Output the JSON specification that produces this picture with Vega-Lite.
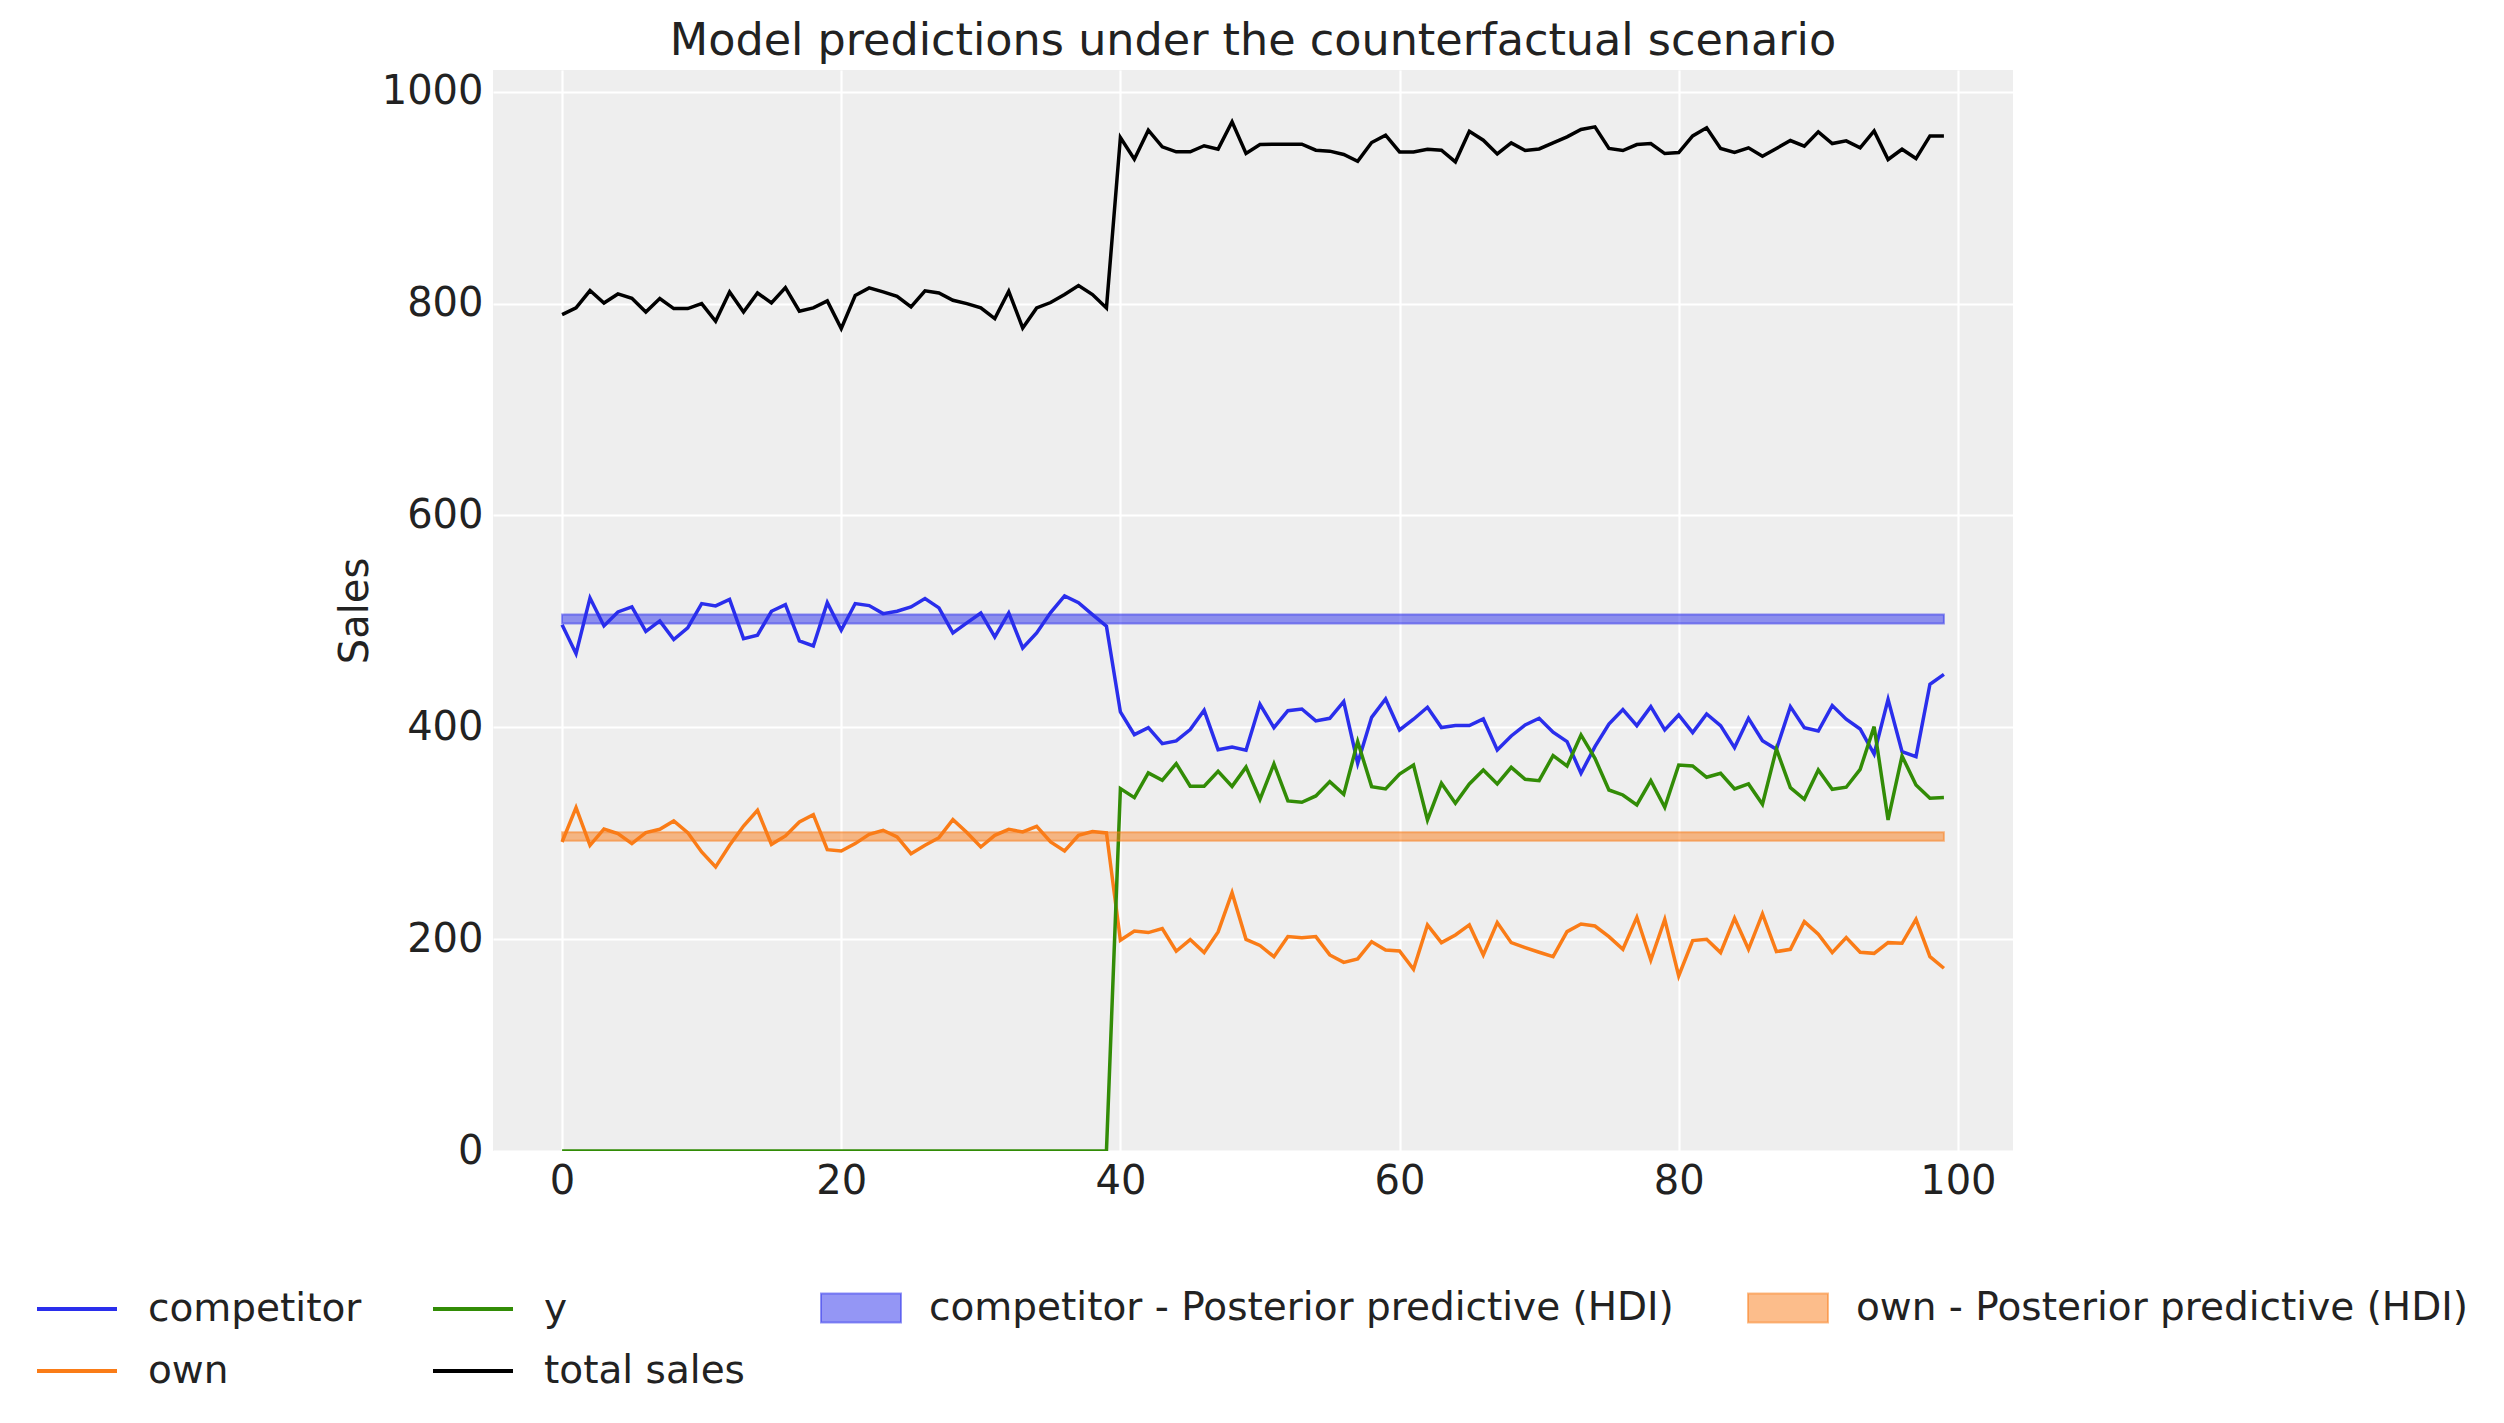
{
  "$schema": "https://vega.github.io/schema/vega-lite/v6.json",
  "width": 1520,
  "height": 1081,
  "autosize": {"type": "none"},
  "padding": {"left": 493, "top": 70, "right": 491, "bottom": 272},
  "background": "white",
  "title": {"text": "Model predictions under the counterfactual scenario", "fontSize": 44.5, "font": "DejaVu Sans", "fontWeight": "normal", "color": "#222222", "frame": "group", "anchor": "middle", "offset": 6},
  "config": {
    "view": {"fill": "#eeeeee", "stroke": null},
    "font": "DejaVu Sans",
    "axis": {"domain": false, "ticks": false, "gridColor": "#ffffff", "gridWidth": 2.2, "gridOpacity": 1, "labelFontSize": 40, "labelColor": "#222222", "labelFont": "DejaVu Sans", "titleFont": "DejaVu Sans", "titleFontSize": 40, "titleFontWeight": "normal", "titleColor": "#222222", "labelPadding": 10, "labelOverlap": false, "labelFlush": false}
  },
  "datasets": {
    "wide": [
      {"t":0,"competitor":496.9,"own":291.7,"y":0,"total sales":789.6},
      {"t":1,"competitor":469.5,"own":324.2,"y":0,"total sales":795.9},
      {"t":2,"competitor":522.1,"own":288.6,"y":0,"total sales":812.3},
      {"t":3,"competitor":495.7,"own":304.0,"y":0,"total sales":800.6},
      {"t":4,"competitor":508.9,"own":299.6,"y":0,"total sales":809.1},
      {"t":5,"competitor":513.6,"own":290.2,"y":0,"total sales":805.0},
      {"t":6,"competitor":490.6,"own":300.6,"y":0,"total sales":792.1},
      {"t":7,"competitor":500.4,"own":303.7,"y":0,"total sales":804.7},
      {"t":8,"competitor":482.8,"own":311.6,"y":0,"total sales":795.3},
      {"t":9,"competitor":493.8,"own":300.6,"y":0,"total sales":795.3},
      {"t":10,"competitor":516.8,"own":282.3,"y":0,"total sales":800.0},
      {"t":11,"competitor":514.6,"own":268.1,"y":0,"total sales":783.3},
      {"t":12,"competitor":520.8,"own":288.6,"y":0,"total sales":811.0},
      {"t":13,"competitor":483.7,"own":306.8,"y":0,"total sales":792.0},
      {"t":14,"competitor":486.9,"own":321.6,"y":0,"total sales":810.0},
      {"t":15,"competitor":509.5,"own":289.5,"y":0,"total sales":800.6},
      {"t":16,"competitor":515.8,"own":297.4,"y":0,"total sales":815.0},
      {"t":17,"competitor":481.5,"own":310.6,"y":0,"total sales":792.8},
      {"t":18,"competitor":476.8,"own":317.5,"y":0,"total sales":795.9},
      {"t":19,"competitor":517.7,"own":284.5,"y":0,"total sales":802.5},
      {"t":20,"competitor":491.6,"own":283.2,"y":0,"total sales":776.4},
      {"t":21,"competitor":516.8,"own":290.2,"y":0,"total sales":807.6},
      {"t":22,"competitor":514.9,"own":299.0,"y":0,"total sales":814.8},
      {"t":23,"competitor":507.3,"own":302.8,"y":0,"total sales":811.0},
      {"t":24,"competitor":509.5,"own":296.5,"y":0,"total sales":806.9},
      {"t":25,"competitor":513.6,"own":280.7,"y":0,"total sales":796.9},
      {"t":26,"competitor":521.5,"own":288.6,"y":0,"total sales":812.0},
      {"t":27,"competitor":512.7,"own":295.8,"y":0,"total sales":810.0},
      {"t":28,"competitor":489.1,"own":312.8,"y":0,"total sales":803.1},
      {"t":29,"competitor":498.5,"own":300.6,"y":0,"total sales":800.0},
      {"t":30,"competitor":507.9,"own":287.0,"y":0,"total sales":795.9},
      {"t":31,"competitor":485.3,"own":298.0,"y":0,"total sales":785.8},
      {"t":32,"competitor":507.9,"own":303.7,"y":0,"total sales":811.6},
      {"t":33,"competitor":474.9,"own":301.2,"y":0,"total sales":777.0},
      {"t":34,"competitor":489.1,"own":306.5,"y":0,"total sales":795.9},
      {"t":35,"competitor":508.3,"own":291.7,"y":0,"total sales":801.0},
      {"t":36,"competitor":524.0,"own":283.2,"y":0,"total sales":808.5},
      {"t":37,"competitor":517.7,"own":298.0,"y":0,"total sales":817.0},
      {"t":38,"competitor":506.4,"own":301.5,"y":0,"total sales":808.5},
      {"t":39,"competitor":495.4,"own":300.3,"y":0,"total sales":795.9},
      {"t":40,"competitor":414.5,"own":199.0,"y":342.1,"total sales":956.8},
      {"t":41,"competitor":393.1,"own":207.7,"y":333.6,"total sales":936.3},
      {"t":42,"competitor":399.7,"own":206.2,"y":356.9,"total sales":963.7},
      {"t":43,"competitor":384.6,"own":210.0,"y":350.0,"total sales":948.0},
      {"t":44,"competitor":387.1,"own":188.6,"y":365.7,"total sales":943.3},
      {"t":45,"competitor":397.8,"own":199.6,"y":344.3,"total sales":943.3},
      {"t":46,"competitor":416.0,"own":187.3,"y":344.3,"total sales":949.0},
      {"t":47,"competitor":378.9,"own":206.8,"y":358.5,"total sales":945.8},
      {"t":48,"competitor":381.4,"own":243.9,"y":344.2,"total sales":971.6},
      {"t":49,"competitor":378.4,"own":199.8,"y":362.4,"total sales":941.7},
      {"t":50,"competitor":421.7,"own":194.0,"y":332.0,"total sales":950.2},
      {"t":51,"competitor":399.7,"own":183.4,"y":365.4,"total sales":950.5},
      {"t":52,"competitor":415.7,"own":202.4,"y":330.5,"total sales":950.5},
      {"t":53,"competitor":417.3,"own":201.4,"y":329.2,"total sales":950.5},
      {"t":54,"competitor":406.0,"own":202.4,"y":335.2,"total sales":944.8},
      {"t":55,"competitor":408.5,"own":185.1,"y":348.7,"total sales":943.9},
      {"t":56,"competitor":424.2,"own":178.1,"y":336.7,"total sales":940.7},
      {"t":57,"competitor":366.0,"own":181.3,"y":386.5,"total sales":934.4},
      {"t":58,"competitor":409.4,"own":197.6,"y":344.0,"total sales":952.0},
      {"t":59,"competitor":426.7,"own":189.8,"y":341.8,"total sales":959.0},
      {"t":60,"competitor":397.5,"own":188.8,"y":355.9,"total sales":943.2},
      {"t":61,"competitor":407.6,"own":171.5,"y":364.4,"total sales":943.2},
      {"t":62,"competitor":418.9,"own":213.4,"y":312.5,"total sales":945.7},
      {"t":63,"competitor":399.7,"own":196.7,"y":347.1,"total sales":944.8},
      {"t":64,"competitor":401.6,"own":203.9,"y":328.2,"total sales":933.8},
      {"t":65,"competitor":401.6,"own":213.4,"y":346.5,"total sales":962.7},
      {"t":66,"competitor":407.9,"own":185.1,"y":359.7,"total sales":954.2},
      {"t":67,"competitor":378.6,"own":215.6,"y":346.5,"total sales":941.3},
      {"t":68,"competitor":391.8,"own":196.7,"y":362.2,"total sales":951.7},
      {"t":69,"competitor":402.2,"own":192.0,"y":350.9,"total sales":944.5},
      {"t":70,"competitor":408.5,"own":187.6,"y":349.6,"total sales":946.0},
      {"t":71,"competitor":395.3,"own":183.5,"y":373.3,"total sales":951.7},
      {"t":72,"competitor":386.5,"own":207.1,"y":363.5,"total sales":957.4},
      {"t":73,"competitor":356.6,"own":214.3,"y":392.8,"total sales":964.3},
      {"t":74,"competitor":381.7,"own":212.4,"y":370.7,"total sales":966.8},
      {"t":75,"competitor":403.1,"own":202.4,"y":340.8,"total sales":946.4},
      {"t":76,"competitor":416.7,"own":190.4,"y":336.1,"total sales":944.5},
      {"t":77,"competitor":401.6,"own":220.6,"y":326.7,"total sales":950.1},
      {"t":78,"competitor":419.5,"own":180.3,"y":349.6,"total sales":951.1},
      {"t":79,"competitor":397.5,"own":218.7,"y":324.5,"total sales":941.6},
      {"t":80,"competitor":411.6,"own":165.2,"y":364.4,"total sales":942.6},
      {"t":81,"competitor":395.0,"own":198.6,"y":363.5,"total sales":958.3},
      {"t":82,"competitor":412.6,"own":199.9,"y":352.8,"total sales":965.9},
      {"t":83,"competitor":401.6,"own":187.3,"y":356.6,"total sales":946.4},
      {"t":84,"competitor":380.8,"own":219.7,"y":341.8,"total sales":942.6},
      {"t":85,"competitor":408.5,"own":190.4,"y":346.5,"total sales":947.0},
      {"t":86,"competitor":387.4,"own":223.8,"y":327.3,"total sales":939.1},
      {"t":87,"competitor":379.2,"own":188.2,"y":379.5,"total sales":946.4},
      {"t":88,"competitor":419.5,"own":190.4,"y":343.0,"total sales":953.9},
      {"t":89,"competitor":399.7,"own":216.5,"y":332.0,"total sales":948.6},
      {"t":90,"competitor":396.5,"own":204.6,"y":359.7,"total sales":962.1},
      {"t":91,"competitor":420.5,"own":187.3,"y":341.5,"total sales":951.1},
      {"t":92,"competitor":407.6,"own":201.4,"y":343.4,"total sales":953.6},
      {"t":93,"competitor":398.4,"own":187.6,"y":360.3,"total sales":947.0},
      {"t":94,"competitor":374.8,"own":186.6,"y":400.6,"total sales":963.0},
      {"t":95,"competitor":426.4,"own":196.7,"y":312.5,"total sales":936.0},
      {"t":96,"competitor":377.0,"own":196.1,"y":372.9,"total sales":945.7},
      {"t":97,"competitor":372.3,"own":218.7,"y":345.6,"total sales":936.9},
      {"t":98,"competitor":440.6,"own":183.5,"y":333.0,"total sales":958.3},
      {"t":99,"competitor":450.0,"own":172.5,"y":333.6,"total sales":958.3}
    ],
    "hdi": [
      {"t":0,"band":"competitor - Posterior predictive (HDI)","lo":498,"hi":506.5},
      {"t":99,"band":"competitor - Posterior predictive (HDI)","lo":498,"hi":506.5},
      {"t":0,"band":"own - Posterior predictive (HDI)","lo":293,"hi":301},
      {"t":99,"band":"own - Posterior predictive (HDI)","lo":293,"hi":301}
    ]
  },
  "layer": [
    {
      "data": {"name": "wide"},
      "transform": [{"fold": ["competitor", "own", "y", "total sales"], "as": ["s", "v"]}],
      "mark": {"type": "line", "strokeWidth": 3.5, "clip": true},
      "encoding": {
        "x": {"field": "t", "type": "quantitative", "scale": {"domain": [-4.95, 103.95], "nice": false, "zero": false}, "axis": {"values": [0, 20, 40, 60, 80, 100], "title": null, "grid": true, "format": "d"}},
        "y": {"field": "v", "type": "quantitative", "scale": {"domain": [0, 1020.5], "nice": false}, "axis": {"values": [0, 200, 400, 600, 800, 1000], "title": "Sales", "titlePadding": 6, "grid": true, "format": "d"}},
        "color": {
          "field": "s", "type": "nominal",
          "scale": {"domain": ["competitor", "own", "y", "total sales"], "range": ["#2a2eec", "#fa7c17", "#328c06", "#000000"]},
          "legend": {"orient": "none", "legendX": -458, "legendY": 1197, "title": null, "columns": 2, "symbolType": "stroke", "symbolSize": 6400, "symbolStrokeWidth": 4, "labelFontSize": 39, "labelColor": "#222222", "labelFont": "DejaVu Sans", "labelOffset": 29, "columnPadding": 63, "rowPadding": -27, "labelLimit": 1000, "padding": 0}
        }
      }
    },
    {
      "data": {"name": "hdi"},
      "mark": {"type": "area", "fillOpacity": 0.5, "strokeWidth": 2, "strokeOpacity": 0.5},
      "encoding": {
        "x": {"field": "t", "type": "quantitative"},
        "y": {"field": "lo", "type": "quantitative"},
        "y2": {"field": "hi"},
        "fill": {
          "field": "band", "type": "nominal",
          "scale": {"domain": ["competitor - Posterior predictive (HDI)", "own - Posterior predictive (HDI)"], "range": ["#2a2eec", "#fa7c17"]},
          "legend": {"orient": "none", "legendX": 327, "legendY": 1197, "title": null, "columns": 2, "symbolType": "M-1,-0.36H1V0.36H-1Z", "symbolSize": 6400, "labelFontSize": 39, "labelColor": "#222222", "labelFont": "DejaVu Sans", "labelOffset": 27, "columnPadding": 70, "labelLimit": 1000, "padding": 0,
            "encode": {"symbols": {"update": {"fillOpacity": {"value": 0.5}, "stroke": {"scale": "fill", "field": "value"}, "strokeOpacity": {"value": 0.5}, "strokeWidth": {"value": 2}, "opacity": {"value": 1}}}}}
        },
        "stroke": {
          "field": "band", "type": "nominal",
          "scale": {"domain": ["competitor - Posterior predictive (HDI)", "own - Posterior predictive (HDI)"], "range": ["#2a2eec", "#fa7c17"]},
          "legend": null
        }
      }
    }
  ]
}
